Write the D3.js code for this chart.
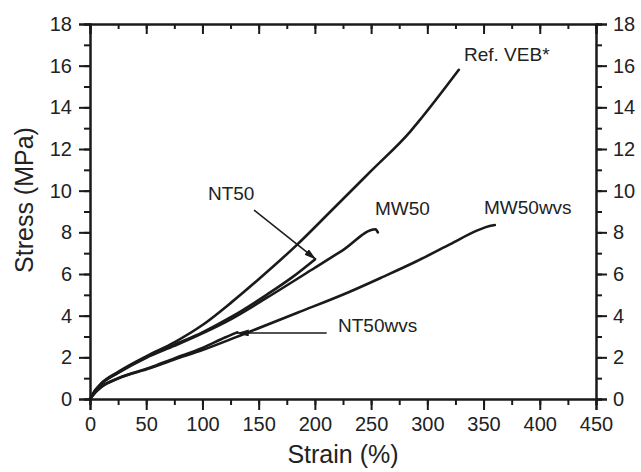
<!DOCTYPE html>
<html>
<head>
<meta charset="utf-8">
<script src="https://cdn.jsdelivr.net/npm/d3@7"></script>
<style>
  body { margin: 0; background: #fff; }
  text { font-family: Arial, "Liberation Sans", sans-serif; fill: #222; }
</style>
</head>
<body>
<div id="chart"></div>
<script>
// data: [strain %, stress MPa]
const refVEB = [[0,0],[5,0.45],[10,0.75],[25,1.3],[50,2.05],[75,2.72],[100,3.55],[126,4.65],[150,5.75],[184,7.4],[213,8.95],[250,10.95],[285,12.85],[295,13.5],[328,15.8]];
const nt50 = [[0,0],[5,0.43],[10,0.73],[25,1.27],[50,2.0],[75,2.6],[100,3.2],[126,3.95],[157,5.0],[180,5.85],[200,6.7]];
const mw50 = [[0,0],[5,0.42],[10,0.72],[25,1.25],[50,1.98],[75,2.55],[100,3.15],[126,3.85],[157,4.85],[200,6.3],[225,7.15],[254,8.15],[256,8.0]];
const nt50wvs = [[0,0],[5,0.34],[10,0.59],[25,1.0],[53,1.5],[75,1.95],[100,2.45],[120,2.95],[131,3.2]];
const mw50wvs = [[0,0],[5,0.33],[10,0.57],[25,0.98],[53,1.47],[75,1.9],[100,2.35],[142,3.23],[185,4.15],[231,5.15],[260,5.85],[290,6.6],[320,7.42],[344,8.08],[352,8.25],[360,8.35]];

const xTicks = [0,50,100,150,200,250,300,350,400,450];
const yTicks = [0,2,4,6,8,10,12,14,16,18];

// annotation labels, in data units
const labels = [
    { text: "Ref. VEB*", x: 332.6, y: 16.22 },
    { text: "NT50", x: 104.9, y: 9.55 },
    { text: "MW50", x: 253.5, y: 8.83 },
    { text: "MW50wvs", x: 350.4, y: 8.88 },
    { text: "NT50wvs", x: 220.6, y: 3.23 }
];
const arrows = [
    { from: [145.9, 9.07], to: [201, 6.7] },
    { from: [210.5, 3.17], to: [130.5, 3.17] }
];

const width = 641, height = 472;
const x = d3.scaleLinear().domain([0, 450]).range([90, 596]);
const y = d3.scaleLinear().domain([0, 18]).range([399, 24]);

const svg = d3.select("#chart").append("svg")
    .attr("width", width)
    .attr("height", height);

const ink = "#1a1a1a";

// curves
const line = d3.line()
    .x(d => x(d[0]))
    .y(d => y(d[1]))
    .curve(d3.curveMonotoneX);

[refVEB, nt50, mw50, nt50wvs, mw50wvs].forEach(s => {
    svg.append("path")
        .attr("d", line(s))
        .attr("fill", "none")
        .attr("stroke", ink)
        .attr("stroke-width", 2.6)
        .attr("stroke-linejoin", "round")
        .attr("stroke-linecap", "round");
});

// axes
const minorX = d3.range(0, 451, 25);
const minorY = d3.range(0, 18.1, 1);

const axBottom = svg.append("g").attr("transform", `translate(0,${y(0)})`)
    .call(d3.axisBottom(x).tickValues(minorX).tickSize(6).tickFormat(""));
axBottom.append("g").call(d3.axisBottom(x).tickValues(xTicks).tickSize(11).tickPadding(7));

const axTop = svg.append("g").attr("transform", `translate(0,${y(18)})`)
    .call(d3.axisBottom(x).tickValues(minorX).tickSize(5).tickFormat(""));
axTop.append("g").call(d3.axisBottom(x).tickValues(xTicks).tickSize(10).tickFormat(""));

const axLeft = svg.append("g").attr("transform", `translate(${x(0)},0)`)
    .call(d3.axisLeft(y).tickValues(minorY).tickSize(6).tickFormat(""));
axLeft.append("g").call(d3.axisLeft(y).tickValues(yTicks).tickSize(11).tickPadding(7));

const axRight = svg.append("g").attr("transform", `translate(${x(450)},0)`)
    .call(d3.axisRight(y).tickValues(minorY).tickSize(6).tickFormat(""));
axRight.append("g").call(d3.axisRight(y).tickValues(yTicks).tickSize(11).tickPadding(6));

svg.selectAll(".domain").attr("stroke", ink).attr("stroke-width", 2);
svg.selectAll(".tick line").attr("stroke", ink).attr("stroke-width", 2);
svg.selectAll(".tick text").attr("font-size", 20).attr("fill", "#222")
    .attr("font-family", "Arial, 'Liberation Sans', sans-serif");

// axis titles
svg.append("text")
    .attr("x", (x(0) + x(450)) / 2)
    .attr("y", 463)
    .attr("text-anchor", "middle")
    .attr("font-size", 25)
    .text("Strain (%)");

svg.append("text")
    .attr("transform", "translate(33,200) rotate(-90)")
    .attr("text-anchor", "middle")
    .attr("font-size", 25)
    .text("Stress (MPa)");

// labels
labels.forEach(l => {
    svg.append("text")
        .attr("x", x(l.x))
        .attr("y", y(l.y))
        .attr("font-size", 19)
        .text(l.text);
});

// arrows
svg.append("defs").append("marker")
    .attr("id", "head")
    .attr("viewBox", "0 0 12 7")
    .attr("refX", 12).attr("refY", 3.5)
    .attr("markerWidth", 12).attr("markerHeight", 7)
    .attr("markerUnits", "userSpaceOnUse")
    .attr("orient", "auto")
    .append("path")
    .attr("d", "M0,0L12,3.5L0,7Z")
    .attr("fill", ink);

arrows.forEach(a => {
    svg.append("line")
        .attr("x1", x(a.from[0])).attr("y1", y(a.from[1]))
        .attr("x2", x(a.to[0])).attr("y2", y(a.to[1]))
        .attr("stroke", ink)
        .attr("stroke-width", 1.6)
        .attr("marker-end", "url(#head)");
});
</script>
</body>
</html>
